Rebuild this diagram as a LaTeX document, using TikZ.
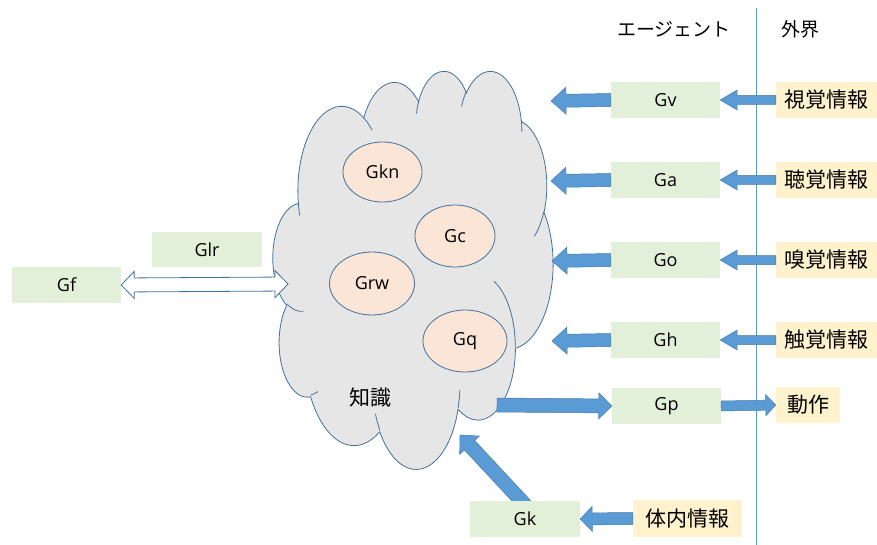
\documentclass[tikz,border=0pt]{standalone}
\usepackage{fontspec}
\setmainfont{Open Sans}
\newfontfamily\jpfont{Noto Sans CJK JP}
\usetikzlibrary{calc,shapes.geometric}
\pgfdeclarelayer{behind}
\pgfsetlayers{behind,main}

\definecolor{agentgreen}{HTML}{E2F0D9}
\definecolor{worldyellow}{HTML}{FFF2CC}
\definecolor{cloudgray}{HTML}{E7E6E6}
\definecolor{edgeblue}{HTML}{41719C}
\definecolor{arrowblue}{HTML}{5B9BD5}
\definecolor{peach}{HTML}{FBE5D6}

% cloud outline: arcs given in thousandths of a 43200-unit box
\pgfmathsetmacro\cloudsx{280/43.2}
\pgfmathsetmacro\cloudsy{398/43.2}
\def\cloudx{273}
\def\cloudy{70}
\newcommand\cloudpt[2]{({\cloudx+#1*\cloudsx},{0-\cloudy-#2*\cloudsy})}
\newcommand\cloudarc[4]{% wR hR start sweep (visual angles, y downwards)
  \pgfmathsetmacro\cloudTa{atan2(#1*sin(#3),#2*cos(#3))}%
  \pgfmathsetmacro\cloudTb{atan2(#1*sin(#3+#4),#2*cos(#3+#4))}%
  \pgfmathsetmacro\cloudDt{mod(\cloudTb-\cloudTa+720,360)}%
  \pgfmathsetmacro\cloudSa{0-\cloudTa}%
  \pgfmathsetmacro\cloudEa{0-\cloudTa-\cloudDt}%
  \pgfmathsetmacro\cloudRx{#1*\cloudsx}%
  \pgfmathsetmacro\cloudRy{#2*\cloudsy}%
  \xdef\cloudpath{\cloudpath arc[start angle=\cloudSa, end angle=\cloudEa, x radius=\cloudRx, y radius=\cloudRy]}%
}
\newcommand\cloudcrease[6]{% x y wR hR start sweep
  \gdef\cloudpath{}%
  \cloudarc{#3}{#4}{#5}{#6}%
  \draw[cloudline] \cloudpt{#1}{#2} \cloudpath;
}

% block arrows: style, tail, tip, shaft half width, head half width, head length
\newcommand\blockarrow[6]{%
  \path ($(#3)!#6!(#2)$) coordinate (ba-base);
  \filldraw[#1] ($(#2)!#4!90:(#3)$) -- ($(ba-base)!#4!90:(#3)$) -- ($(ba-base)!#5!90:(#3)$)
    -- (#3) -- ($(ba-base)!#5!-90:(#3)$) -- ($(ba-base)!#4!-90:(#3)$) -- ($(#2)!#4!-90:(#3)$) -- cycle;
}
\newcommand\doubleblockarrow[6]{%
  \path ($(#2)!#6!(#3)$) coordinate (dba-a) ($(#3)!#6!(#2)$) coordinate (dba-b);
  \filldraw[#1] (#2) -- ($(dba-a)!#5!90:(#3)$) -- ($(dba-a)!#4!90:(#3)$) -- ($(dba-b)!#4!-90:(#2)$)
    -- ($(dba-b)!#5!-90:(#2)$) -- (#3) -- ($(dba-b)!#5!90:(#2)$) -- ($(dba-b)!#4!90:(#2)$)
    -- ($(dba-a)!#4!-90:(#3)$) -- ($(dba-a)!#5!-90:(#3)$) -- cycle;
}

\tikzset{
  gbox/.style={fill=agentgreen, minimum width=109pt, minimum height=36pt, inner sep=0pt,
    font=\fontsize{18}{21}\selectfont},
  ybox/.style={fill=worldyellow, minimum height=36pt, inner sep=0pt,
    font=\jpfont\fontsize{21}{25}\selectfont},
  header/.style={inner sep=0pt, font=\jpfont\fontsize{19}{23}\selectfont},
  subgoal/.style={ellipse, draw=edgeblue, line width=0.8pt, fill=peach, inner sep=0pt,
    font=\fontsize{18}{21}\selectfont},
  cloudtext/.style={inner sep=0pt, font=\jpfont\fontsize{21}{25}\selectfont},
  cloudbody/.style={fill=cloudgray, draw=edgeblue, line width=0.8pt},
  cloudline/.style={draw=edgeblue, line width=0.8pt},
  bigarrow/.style={fill=arrowblue, draw=arrowblue!80!black, line width=0.5pt},
  hollowarrow/.style={fill=white, draw=edgeblue, line width=0.8pt},
  divider/.style={draw=arrowblue, line width=1pt},
}

\begin{document}
\begin{tikzpicture}[x=1pt,y=1pt]
\useasboundingbox (0,0) rectangle (877,-545);

% knowledge cloud
\gdef\cloudpath{}
\cloudarc{6.753}{9.190}{-190.4875}{123.7805}
\cloudarc{5.333}{7.267}{-144.1024}{89.9452}
\cloudarc{4.365}{5.945}{-145.8079}{99.7230}
\cloudarc{4.857}{6.595}{-130.9861}{117.2417}
\cloudarc{5.333}{7.273}{-78.7089}{109.0269}
\cloudarc{6.775}{9.220}{-46.2673}{130.2690}
\cloudarc{5.785}{7.867}{0.6250}{114.0333}
\cloudarc{6.752}{9.215}{22.4516}{115.1726}
\cloudarc{7.720}{10.543}{66.2426}{75.7110}
\cloudarc{4.360}{5.918}{-274.9421}{146.7356}
\cloudarc{4.345}{5.945}{-246.8285}{152.5189}
\filldraw[cloudbody] \cloudpt{3.900}{14.370} \cloudpath -- cycle;

% inner creases of the cloud
\cloudcrease{4.693}{26.177}{4.345}{5.945}{86.7420}{26.4295}
\cloudcrease{6.928}{34.899}{4.360}{5.918}{73.6105}{11.4475}
\cloudcrease{16.478}{39.090}{6.752}{9.215}{137.6242}{14.0811}
\cloudcrease{28.827}{34.751}{6.752}{9.215}{6.4533}{15.9984}
\cloudcrease{34.129}{22.954}{5.785}{7.867}{-70.2924}{70.9174}
\cloudcrease{41.798}{15.354}{5.333}{7.273}{30.3180}{27.7515}
\cloudcrease{38.324}{5.426}{4.857}{6.595}{-13.7443}{14.8589}
\cloudcrease{29.078}{3.952}{4.857}{6.595}{-149.1815}{18.1954}
\cloudcrease{22.141}{4.720}{4.365}{5.945}{-163.4943}{17.6864}
\cloudcrease{14.000}{5.192}{6.753}{9.190}{-66.7070}{12.3194}
\cloudcrease{4.127}{15.789}{6.753}{9.190}{157.6544}{11.8582}

% goals inside the knowledge cloud
\node[subgoal, minimum width=79pt, minimum height=60pt] (gkn) at (382.5,-172) {Gkn};
\node[subgoal, minimum width=80pt, minimum height=62pt] (gc) at (455,-236) {Gc};
\node[subgoal, minimum width=85pt, minimum height=63pt] (grw) at (372,-283.5) {Grw};
\node[subgoal, minimum width=84pt, minimum height=62pt] (gq) at (465,-341) {Gq};
\node[cloudtext] (knowledge) at (370,-398) {知識};

% agent / world headers and their divider
\node[header] (agent) at (674,-29) {エージェント};
\node[header] (world) at (800,-29) {外界};
\coordinate (divtop) at (756,-8);
\coordinate (divbottom) at (756,-545);
\draw[divider] (divtop) -- (divbottom);

% agent-side goal boxes
\node[gbox] (gv) at (665.5,-100) {Gv};
\node[gbox] (ga) at (665.5,-180) {Ga};
\node[gbox] (go) at (665.5,-260) {Go};
\node[gbox] (gh) at (665.5,-340) {Gh};
\node[gbox] (gp) at (666.5,-406) {Gp};
\node[gbox, minimum width=110pt] (gk) at (525,-519) {Gk};
\node[gbox, minimum width=110pt, minimum height=35pt] (glr) at (207,-249.5) {Glr};
\node[gbox] (gf) at (66.5,-285) {Gf};

% world-side inputs and outputs
\node[ybox, minimum width=101pt] (vision) at (826.5,-100) {視覚情報};
\node[ybox, minimum width=101pt] (hearing) at (826.5,-180) {聴覚情報};
\node[ybox, minimum width=101pt] (smell) at (826.5,-260) {嗅覚情報};
\node[ybox, minimum width=101pt] (touch) at (826.5,-340) {触覚情報};
\node[ybox, minimum width=64pt] (action) at (808,-405) {動作};
\node[ybox, minimum width=109pt, minimum height=37pt] (body) at (687.5,-518.5) {体内情報};

% senses feeding the goal boxes
\blockarrow{bigarrow}{vision.west}{gv.east}{4.5pt}{10pt}{17pt}
\blockarrow{bigarrow}{hearing.west}{ga.east}{4.5pt}{10pt}{17pt}
\blockarrow{bigarrow}{smell.west}{go.east}{4.5pt}{10pt}{17pt}
\blockarrow{bigarrow}{touch.west}{gh.east}{4.5pt}{10pt}{17pt}
\blockarrow{bigarrow}{body.west}{gk.east}{6pt}{12.5pt}{12pt}
\blockarrow{bigarrow}{gp.east}{action.west}{5pt}{10.5pt}{10pt}

% goal boxes feeding the cloud
\coordinate (tipv) at (551,-101);
\coordinate (tipa) at (551,-181);
\coordinate (tipo) at (552,-261);
\coordinate (tiph) at (552,-341);
\blockarrow{bigarrow}{gv.west}{tipv}{6.5pt}{13.5pt}{15pt}
\blockarrow{bigarrow}{ga.west}{tipa}{6.5pt}{13.5pt}{15pt}
\blockarrow{bigarrow}{go.west}{tipo}{6.5pt}{13.5pt}{15pt}
\blockarrow{bigarrow}{gh.west}{tiph}{6.5pt}{13.5pt}{15pt}

% cloud to action goal
\coordinate (cloudout) at (497,-405);
\blockarrow{bigarrow}{cloudout}{gp.west}{7pt}{13pt}{13pt}

% body goal back into the cloud
\coordinate (gktail) at (528,-508);
\coordinate (cloudin) at (460,-435);
\begin{pgfonlayer}{behind}
\blockarrow{bigarrow}{gktail}{cloudin}{7pt}{13.5pt}{14pt}
\end{pgfonlayer}

% exchange with Gf
\coordinate (cloudleft) at (288,-284);
\doubleblockarrow{hollowarrow}{gf.east}{cloudleft}{7pt}{13.5pt}{13pt}
\end{tikzpicture}
\end{document}
